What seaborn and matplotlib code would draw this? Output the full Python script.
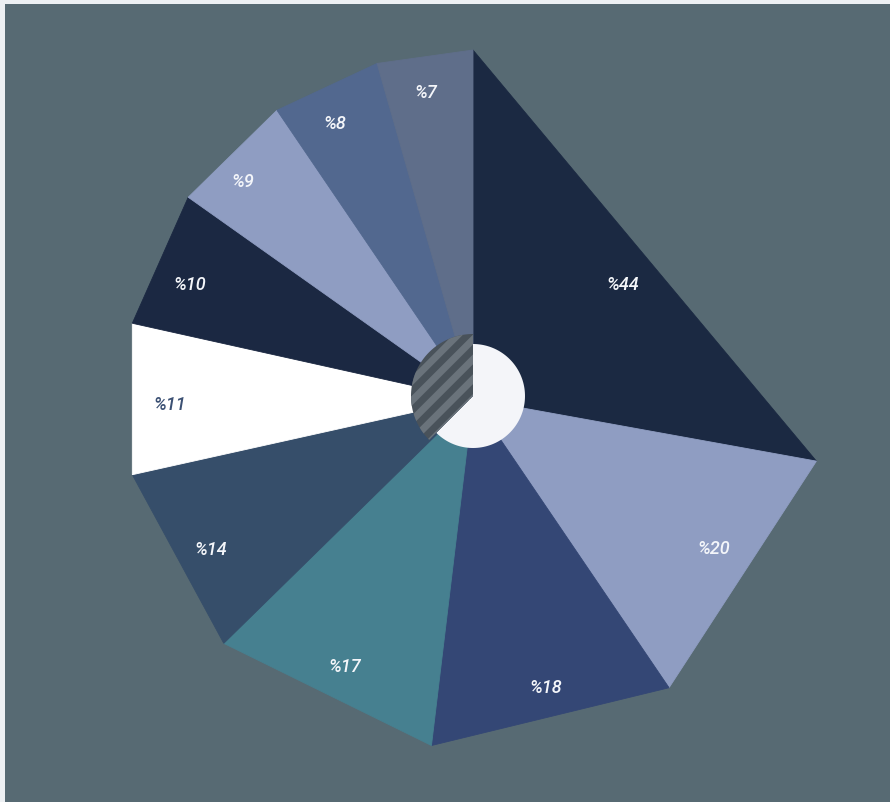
import numpy as np
import matplotlib
matplotlib.use("Agg")
import matplotlib.pyplot as plt
from matplotlib.patches import Rectangle, Polygon
import seaborn as sns

# ---- data ----
categories = ["A", "B", "C", "D", "E", "F", "G", "H", "I", "J"]
values = [44, 20, 18, 17, 14, 11, 10, 9, 8, 7]
labels = ["%44", "%20", "%18", "%17", "%14", "%11", "%10", "%9", "%8", "%7"]
inner_values = [5, 3]

# ---- style ----
colors = ["#1b2942", "#8f9dc2", "#344775", "#468090", "#364e6a",
          "#ffffff", "#1b2842", "#8f9dc2", "#52688f", "#5f6e8a"]
label_colors = ["#f4f6fa"] * 5 + ["#3b5073"] + ["#f4f6fa"] * 4
label_r = [0.54, 0.81, 0.85, 0.85, 0.865, 0.87, 0.875, 0.91, 0.885, 0.89]
label_da = [-2.4, 1.3, 0.5, 0.5, 1.4, 1.0, 1.8, 2.1, 1.5, 0.7]

sns.set_theme(style="white")
plt.rcParams["font.family"] = ["Roboto", "DejaVu Sans"]

W, H = 890, 803
fig = plt.figure(figsize=(W / 100, H / 100), dpi=100, facecolor="#edf0f3")
ax = fig.add_axes([0, 0, 1, 1])
ax.set_xlim(0, W)
ax.set_ylim(H, 0)
ax.set_aspect("equal")
ax.axis("off")

# background panel
ax.add_patch(Rectangle((5, 5), W - 5, H - 5, facecolor="#576a73", edgecolor="none", zorder=0))

cx, cy, R = 473, 400, 349

def pt(angle_deg, r, y0=None):
    a = np.deg2rad(angle_deg)
    yc = cy if y0 is None else y0
    return cx + r * np.cos(a), yc - r * np.sin(a)

total = float(sum(values))
start = 90.0
for v, col, lab, lc, lr, da in zip(values, colors, labels, label_colors, label_r, label_da):
    span = v / total * 360.0
    end = start - span
    p0 = pt(start, R)
    p1 = pt(end, R)
    ax.add_patch(Polygon([(cx, cy), p0, p1], closed=True, facecolor=col,
                         edgecolor=col, linewidth=0.6, zorder=2))
    mid = (start + end) / 2 + da
    tx, ty = pt(mid, R * lr)
    ax.text(tx, ty, lab, color=lc, fontsize=13, fontstyle="italic",
            fontweight="medium", ha="center", va="center", zorder=5)
    start = end

# inner ring: white part and striped part
icy = 397
itot = float(sum(inner_values))
w_span = inner_values[0] / itot * 360.0

def sector(a0, a1, r, n=100):
    angs = np.linspace(a0, a1, n)
    xs = [cx] + [pt(a, r, icy)[0] for a in angs]
    ys = [icy] + [pt(a, r, icy)[1] for a in angs]
    return np.column_stack([xs, ys])

ax.add_patch(Polygon(sector(90 - w_span, 90, 52), closed=True, facecolor="#f4f5f9",
                     edgecolor="none", zorder=3))
striped = Polygon(sector(90, 90 + (360 - w_span), 62), closed=True, facecolor="#49525a",
                  edgecolor="none", zorder=3)
ax.add_patch(striped)
period, sw = 14, 7
for c in np.arange(cx + icy - 200, cx + icy + 200, period * np.sqrt(2)):
    xs = np.array([cx - 100, cx + 100])
    poly = [(xs[0], c - xs[0]), (xs[1], c - xs[1]),
            (xs[1], c + sw * np.sqrt(2) - xs[1]), (xs[0], c + sw * np.sqrt(2) - xs[0])]
    s = Polygon(poly, closed=True, facecolor="#6a737b", edgecolor="none", zorder=4)
    ax.add_patch(s)
    s.set_clip_path(striped)

fig.savefig("out.png", dpi=100, facecolor=fig.get_facecolor())
